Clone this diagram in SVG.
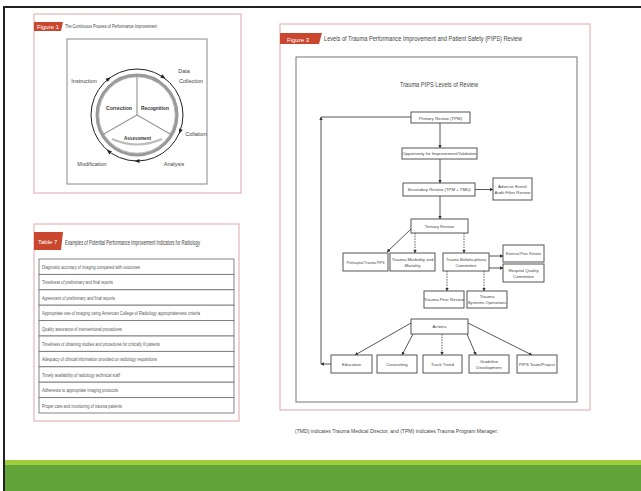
<svg xmlns="http://www.w3.org/2000/svg" width="641" height="491" viewBox="0 0 641 491">
<style>
.t{font-family:"Liberation Sans",Arial,sans-serif;fill:#444}
.pink{fill:#fff;stroke:#e8b4b8;stroke-width:1.2}
.box{fill:#fff;stroke:#555;stroke-width:1}
.lbl{font-family:"Liberation Sans",Arial,sans-serif;fill:#444;font-size:4.3px;text-anchor:middle}
.con{fill:none;stroke:#444;stroke-width:0.9}
.dash{stroke-dasharray:1.5,1.2}
.row{fill:#fff;stroke:#777;stroke-width:0.9}
.rt{font-family:"Liberation Sans",Arial,sans-serif;fill:#555;font-size:5.8px}
.red{fill:#c9472f}
.wt{font-family:"Liberation Sans",Arial,sans-serif;fill:#fff;font-size:6px}
.seg{font-family:"Liberation Sans",Arial,sans-serif;fill:#333;font-size:6px;font-weight:bold}
</style>
<defs>
<marker id="ah" viewBox="0 0 6 6" refX="5.5" refY="3" markerWidth="4" markerHeight="4" orient="auto">
<path d="M0,0 L6,3 L0,6 z" fill="#333"/>
</marker>
</defs>
<rect width="641" height="491" fill="#fff"/>
<rect x="4" y="7" width="640" height="490" fill="none" stroke="#222" stroke-width="2"/>
<rect x="5" y="460" width="636" height="5" fill="#9fcd3e"/>
<rect x="5" y="465" width="636" height="26" fill="#62a33a"/>

<!-- Figure 1 -->
<g id="figure1">
<rect class="pink" x="34" y="14" width="207" height="179"/>
<path class="red" d="M34,22 H63 L61,31 H34 z"/>
<text class="wt" x="37" y="29" font-size="5">Figure 1</text>
<text class="t" x="65" y="28" font-size="4.5" textLength="92" lengthAdjust="spacingAndGlyphs">The Continuous Process of Performance Improvement</text>
<rect x="67" y="39" width="140" height="145" fill="#fff" stroke="#888" stroke-width="1"/>
<circle cx="137" cy="115" r="46" fill="none" stroke="#222" stroke-width="1"/>
<circle cx="137" cy="115" r="40" fill="none" stroke="#999" stroke-width="3"/>
<circle cx="137" cy="115" r="38.2" fill="none" stroke="#777" stroke-width="0.5"/>
<line x1="137" y1="115" x2="137" y2="76" stroke="#999" stroke-width="1.2"/>
<line x1="137" y1="115" x2="103" y2="134.5" stroke="#999" stroke-width="1.2"/>
<line x1="137" y1="115" x2="171" y2="134.5" stroke="#999" stroke-width="1.2"/>
<path d="M112,139 Q137,150 162,139" fill="none" stroke="#bbb" stroke-width="2"/>
<text class="seg" x="106" y="110" textLength="26" lengthAdjust="spacingAndGlyphs">Correction</text>
<text class="seg" x="141" y="110" textLength="28" lengthAdjust="spacingAndGlyphs">Recognition</text>
<text class="seg" x="124" y="140" textLength="27" lengthAdjust="spacingAndGlyphs">Assessment</text>
<text class="t" x="84" y="83" font-size="5.5" text-anchor="middle">Instruction</text>
<text class="t" x="184" y="73" font-size="5.5" text-anchor="middle">Data</text>
<text class="t" x="191" y="83" font-size="5.5" text-anchor="middle">Collection</text>
<text class="t" x="196" y="136" font-size="5.5" text-anchor="middle">Collation</text>
<text class="t" x="174" y="166" font-size="5.5" text-anchor="middle">Analysis</text>
<text class="t" x="92" y="166" font-size="5.5" text-anchor="middle">Modification</text>
<g fill="#222">
<polygon points="2.5,0 -2.5,-2 -2.5,2" transform="translate(163.4,77.3) rotate(35)"/>
<polygon points="2.5,0 -2.5,-2 -2.5,2" transform="translate(108.7,78.7) rotate(-38)"/>
<polygon points="2.5,0 -2.5,-2 -2.5,2" transform="translate(180,131.5) rotate(111)"/>
<polygon points="2.5,0 -2.5,-2 -2.5,2" transform="translate(137,161) rotate(180)"/>
<polygon points="2.5,0 -2.5,-2 -2.5,2" transform="translate(108.7,151.3) rotate(218)"/>
</g>
</g>

<!-- Table 7 -->
<g id="table7">
<rect class="pink" x="34" y="224" width="205" height="197"/>
<path class="red" d="M34,232 H63 L61,250 H34 z"/>
<text class="wt" x="38" y="243.5" font-size="5">Table 7</text>
<text class="t" x="65" y="245" font-size="7" textLength="135" lengthAdjust="spacingAndGlyphs">Examples of Potential Performance Improvement Indicators for Radiology</text>
<rect class="row" x="39" y="259" width="195" height="15.4"/>
<rect class="row" x="39" y="274.4" width="195" height="15.4"/>
<rect class="row" x="39" y="289.8" width="195" height="15.4"/>
<rect class="row" x="39" y="305.2" width="195" height="15.4"/>
<rect class="row" x="39" y="320.6" width="195" height="15.4"/>
<rect class="row" x="39" y="336" width="195" height="15.4"/>
<rect class="row" x="39" y="351.4" width="195" height="15.4"/>
<rect class="row" x="39" y="366.8" width="195" height="15.4"/>
<rect class="row" x="39" y="382.2" width="195" height="15.4"/>
<rect class="row" x="39" y="397.6" width="195" height="15.4"/>
<text class="rt" x="42" y="269" textLength="98" lengthAdjust="spacingAndGlyphs">Diagnostic accuracy of imaging compared with outcomes</text>
<text class="rt" x="42" y="284.4" textLength="71" lengthAdjust="spacingAndGlyphs">Timeliness of preliminary and final reports</text>
<text class="rt" x="42" y="299.8" textLength="73" lengthAdjust="spacingAndGlyphs">Agreement of preliminary and final reports</text>
<text class="rt" x="42" y="315.2" textLength="158" lengthAdjust="spacingAndGlyphs">Appropriate use of imaging using American College of Radiology appropriateness criteria</text>
<text class="rt" x="42" y="330.6" textLength="80" lengthAdjust="spacingAndGlyphs">Quality assurance of interventional procedures</text>
<text class="rt" x="42" y="346" textLength="118" lengthAdjust="spacingAndGlyphs">Timeliness of obtaining studies and procedures for critically ill patients</text>
<text class="rt" x="42" y="361.4" textLength="115" lengthAdjust="spacingAndGlyphs">Adequacy of clinical information provided on radiology requisitions</text>
<text class="rt" x="42" y="376.8" textLength="78" lengthAdjust="spacingAndGlyphs">Timely availability of radiology technical staff</text>
<text class="rt" x="42" y="392.2" textLength="76" lengthAdjust="spacingAndGlyphs">Adherence to appropriate imaging protocols</text>
<text class="rt" x="42" y="407.6" textLength="80" lengthAdjust="spacingAndGlyphs">Proper care and monitoring of trauma patients</text>
</g>

<!-- Figure 3 -->
<g id="figure3">
<rect class="pink" x="280" y="24" width="310" height="386"/>
<path class="red" d="M280,33 H322 L319,44 H280 z"/>
<text class="wt" x="287" y="41.5" font-size="7">Figure 3</text>
<text class="t" x="324" y="41" font-size="7" textLength="198" lengthAdjust="spacingAndGlyphs">Levels of Trauma Performance Improvement and Patient Safety (PIPS) Review</text>
<rect x="296" y="57" width="281" height="345" fill="#fff" stroke="#777" stroke-width="1"/>
<text class="t" x="439" y="87" font-size="7.5" text-anchor="middle" fill="#333" textLength="78" lengthAdjust="spacingAndGlyphs">Trauma PIPS Levels of Review</text>
</g>

<g id="connectors">
<line class="con" x1="440" y1="123" x2="440" y2="148" marker-end="url(#ah)"/>
<line class="con" x1="440" y1="159" x2="440" y2="183" marker-end="url(#ah)"/>
<line class="con" x1="475" y1="189.5" x2="493" y2="189.5" marker-end="url(#ah)"/>
<line class="con" x1="440" y1="196" x2="440" y2="219" marker-end="url(#ah)"/>
<line class="con" x1="411" y1="229" x2="387" y2="252" marker-end="url(#ah)"/>
<line class="con dash" x1="415" y1="233" x2="415" y2="253" marker-end="url(#ah)"/>
<line class="con dash" x1="464" y1="233" x2="464" y2="253" marker-end="url(#ah)"/>
<line class="con" x1="489" y1="256" x2="503" y2="256" marker-end="url(#ah)"/>
<line class="con" x1="489" y1="268" x2="503" y2="268" marker-end="url(#ah)"/>
<line class="con dash" x1="447" y1="271" x2="447" y2="291" marker-end="url(#ah)"/>
<line class="con dash" x1="484" y1="271" x2="484" y2="291" marker-end="url(#ah)"/>
<line class="con" x1="411" y1="323" x2="355" y2="355" marker-end="url(#ah)"/>
<line class="con" x1="413" y1="334" x2="402" y2="355" marker-end="url(#ah)"/>
<line class="con dash" x1="442" y1="334" x2="442" y2="355" marker-end="url(#ah)"/>
<line class="con" x1="467" y1="334" x2="476" y2="355" marker-end="url(#ah)"/>
<line class="con" x1="468" y1="323" x2="532" y2="355" marker-end="url(#ah)"/>
<polyline class="con" points="331,364 321,364" marker-end="url(#ah)"/>
<polyline class="con" points="321,364 321,117" marker-end="url(#ah)"/>
<line class="con" x1="321" y1="117" x2="411" y2="117"/>
</g>

<g id="primary"><rect class="box" x="411" y="112" width="59" height="11"/><text class="lbl" x="440.5" y="119.5">Primary Review (TPM)</text></g>
<g id="opportunity"><rect class="box" x="402" y="148" width="75" height="11" stroke="#999"/><text class="lbl" x="439.5" y="155" font-size="3.4">Opportunity for Improvement/Validation</text></g>
<g id="secondary"><rect class="box" x="403" y="183" width="72" height="13"/><text class="lbl" x="439" y="191">Secondary Review (TPM + TMD)</text></g>
<g id="adverse"><rect class="box" x="493" y="178" width="39" height="22"/><text class="lbl" x="512.5" y="187.5" font-size="3.8">Adverse Event/</text><text class="lbl" x="512.5" y="193.5" font-size="3.8">Audit Filter Review</text></g>
<g id="tertiary"><rect class="box" x="411" y="219" width="57" height="14"/><text class="lbl" x="439.5" y="227.5">Tertiary Review</text></g>
<g id="prehospital"><rect class="box" x="343" y="253" width="45" height="18"/><text class="lbl" x="365.5" y="263.5" font-size="3.8" textLength="38" lengthAdjust="spacingAndGlyphs">Prehospital Trauma PIPS</text></g>
<g id="morbidity"><rect class="box" x="390" y="253" width="45" height="18"/><text class="lbl" x="412.5" y="260.5" font-size="3.8">Trauma Morbidity and</text><text class="lbl" x="412.5" y="266.5" font-size="3.8">Mortality</text></g>
<g id="multidisciplinary"><rect class="box" x="443" y="253" width="46" height="18"/><text class="lbl" x="466" y="260.5" font-size="3.8" textLength="40" lengthAdjust="spacingAndGlyphs">Trauma Multidisciplinary</text><text class="lbl" x="466" y="266.5" font-size="3.8">Committee</text></g>
<g id="external"><rect class="box" x="503" y="245" width="41" height="17"/><text class="lbl" x="523.5" y="255" font-size="3.8" textLength="35" lengthAdjust="spacingAndGlyphs">External Peer Review</text></g>
<g id="hospital"><rect class="box" x="503" y="264" width="41" height="18"/><text class="lbl" x="523.5" y="271.5" font-size="3.8">Hospital Quality</text><text class="lbl" x="523.5" y="277.5" font-size="3.8">Committee</text></g>
<g id="peer"><rect class="box" x="424" y="291" width="40" height="17"/><text class="lbl" x="444" y="301" font-size="3.8">Trauma Peer Review</text></g>
<g id="systems"><rect class="box" x="467" y="291" width="40" height="17"/><text class="lbl" x="487" y="298" font-size="3.8">Trauma</text><text class="lbl" x="487" y="304" font-size="3.8">Systems Operations</text></g>
<g id="actions"><rect class="box" x="411" y="319" width="57" height="15"/><text class="lbl" x="439.5" y="328">Actions</text></g>
<g id="education"><rect class="box" x="331" y="355" width="41" height="18"/><text class="lbl" x="351.5" y="365.5" font-size="3.8">Education</text></g>
<g id="counseling"><rect class="box" x="377" y="355" width="40" height="18"/><text class="lbl" x="397" y="365.5" font-size="3.8">Counseling</text></g>
<g id="track"><rect class="box" x="423" y="355" width="39" height="18"/><text class="lbl" x="442.5" y="365.5" font-size="3.8">Track Trend</text></g>
<g id="guideline"><rect class="box" x="469" y="355" width="40" height="18"/><text class="lbl" x="489" y="362.5" font-size="3.8">Guideline</text><text class="lbl" x="489" y="368.5" font-size="3.8">Development</text></g>
<g id="pips"><rect class="box" x="517" y="355" width="40" height="18"/><text class="lbl" x="537" y="365.5" font-size="3.8">PIPS Team/Project</text></g>

<text class="t" x="295" y="433" font-size="5" textLength="203" lengthAdjust="spacingAndGlyphs">(TMD) indicates Trauma Medical Director, and (TPM) indicates Trauma Program Manager.</text>
</svg>
